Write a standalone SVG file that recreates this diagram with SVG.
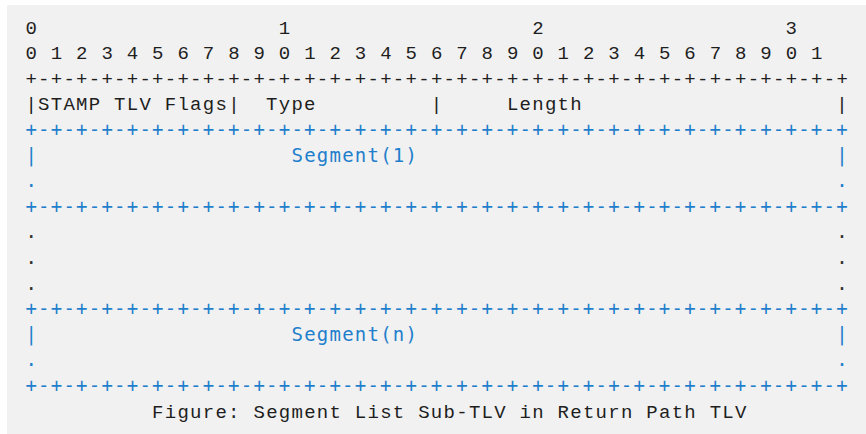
<svg xmlns="http://www.w3.org/2000/svg" width="866" height="434" viewBox="0 0 866 434">
<style>
text{font-family:"Liberation Mono","DejaVu Sans Mono",monospace;font-size:19px;letter-spacing:1.27px;}
.k{fill:#1e1e1e;}
.b{fill:#1f7fcc;font-family:"DejaVu Sans Mono","Liberation Mono",monospace;font-size:19px;letter-spacing:1.23px;}
.d{fill:#333333;font-family:"DejaVu Sans Mono","Liberation Mono",monospace;font-size:19px;letter-spacing:1.23px;}
</style>
<rect x="0" y="0" width="866" height="434" fill="#ffffff"/>
<rect x="7" y="5" width="859" height="429" fill="#f1f1f1"/>
<g id="ruler">
<text class="k" x="25.4" y="33.5">0</text>
<text class="k" x="278.8" y="33.5">1</text>
<text class="k" x="532.2" y="33.5">2</text>
<text class="k" x="785.6" y="33.5">3</text>
<text class="k" x="25.4" y="59.1">0 1 2 3 4 5 6 7 8 9 0 1 2 3 4 5 6 7 8 9 0 1 2 3 4 5 6 7 8 9 0 1</text>
<text class="k" x="25.4" y="84.7">+-+-+-+-+-+-+-+-+-+-+-+-+-+-+-+-+-+-+-+-+-+-+-+-+-+-+-+-+-+-+-+-+</text>
</g>
<g id="header">
<text class="k" x="25.4" y="110.3">|STAMP TLV Flags|</text>
<text class="k" x="266.1" y="110.3">Type</text>
<text class="k" x="430.8" y="110.3">|</text>
<text class="k" x="506.9" y="110.3">Length</text>
<text class="k" x="836.3" y="110.3">|</text>
</g>
<g id="segment1">
<text class="b" x="25.4" y="135.9">+-+-+-+-+-+-+-+-+-+-+-+-+-+-+-+-+-+-+-+-+-+-+-+-+-+-+-+-+-+-+-+-+</text>
<text class="b" x="25.4" y="161.5">|</text>
<text class="b" x="291.5" y="161.5">Segment(1)</text>
<text class="b" x="836.3" y="161.5">|</text>
<text class="b" x="25.4" y="187.1">.</text>
<text class="b" x="836.3" y="187.1">.</text>
<text class="b" x="25.4" y="212.7">+-+-+-+-+-+-+-+-+-+-+-+-+-+-+-+-+-+-+-+-+-+-+-+-+-+-+-+-+-+-+-+-+</text>
</g>
<g id="ellipsis">
<text class="d" x="25.4" y="238.3">.</text>
<text class="d" x="836.3" y="238.3">.</text>
<text class="d" x="25.4" y="263.9">.</text>
<text class="d" x="836.3" y="263.9">.</text>
<text class="d" x="25.4" y="289.5">.</text>
<text class="d" x="836.3" y="289.5">.</text>
</g>
<g id="segmentn">
<text class="b" x="25.4" y="315.1">+-+-+-+-+-+-+-+-+-+-+-+-+-+-+-+-+-+-+-+-+-+-+-+-+-+-+-+-+-+-+-+-+</text>
<text class="b" x="25.4" y="340.7">|</text>
<text class="b" x="291.5" y="340.7">Segment(n)</text>
<text class="b" x="836.3" y="340.7">|</text>
<text class="b" x="25.4" y="366.3">.</text>
<text class="b" x="836.3" y="366.3">.</text>
<text class="b" x="25.4" y="391.9">+-+-+-+-+-+-+-+-+-+-+-+-+-+-+-+-+-+-+-+-+-+-+-+-+-+-+-+-+-+-+-+-+</text>
</g>
<g id="caption">
<text class="k" x="152.1" y="417.5">Figure: Segment List Sub-TLV in Return Path TLV</text>
</g>
</svg>
